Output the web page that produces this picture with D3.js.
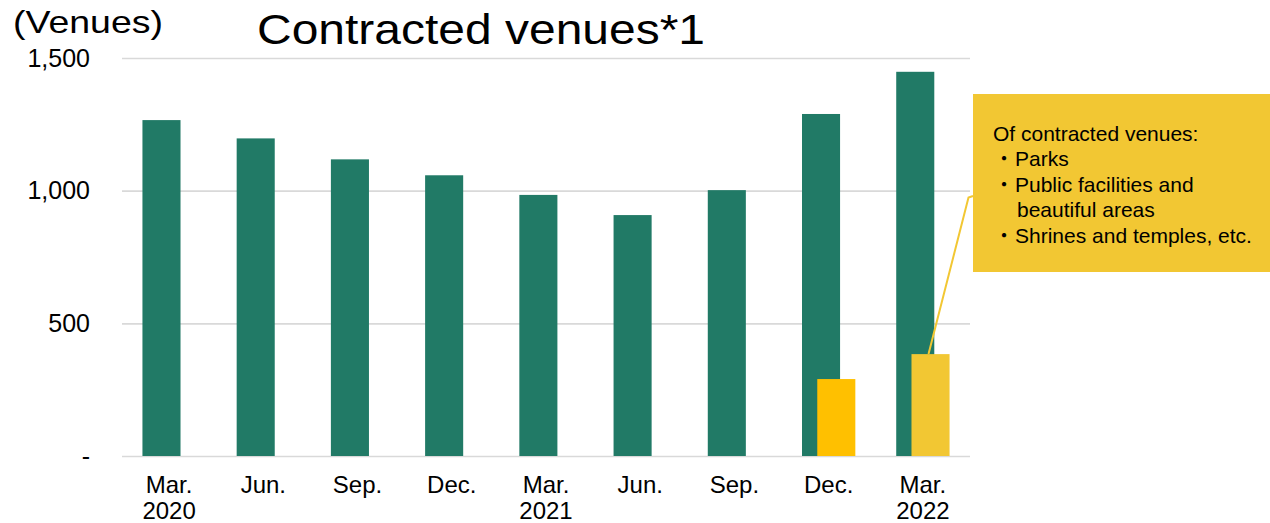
<!DOCTYPE html>
<html>
<head>
<meta charset="utf-8">
<script src="https://cdn.jsdelivr.net/npm/d3@7"></script>
<style>
  html, body { margin: 0; padding: 0; background: #fff; }
  svg { display: block; font-family: "Liberation Sans", Arial, "Noto Sans CJK JP", sans-serif; }
</style>
</head>
<body>
<svg id="chart" width="1270" height="523"></svg>
<script>
// Quarterly periods on the x axis
const periods = ["2020-03", "2020-06", "2020-09", "2020-12", "2021-03", "2021-06", "2021-09", "2021-12", "2022-03"];
const monthLabels = ["Mar.", "Jun.", "Sep.", "Dec.", "Mar.", "Jun.", "Sep.", "Dec.", "Mar."];
const yearLabels = ["2020", "", "", "", "2021", "", "", "", "2022"];

// Contracted venues, and the subset that are parks / public facilities / shrines and temples
const contractedVenues = [1266, 1197, 1118, 1058, 984, 908, 1002, 1289, 1448];
const publicVenues = [null, null, null, null, null, null, null, 290, 384];

// Y axis ticks
const yTicks = [0, 500, 1000, 1500];
const yTickLabels = ["-", "500", "1,000", "1,500"];

const calloutLines = [
  { text: "Of contracted venues:", bullet: false, indent: false },
  { text: "Parks", bullet: true, indent: false },
  { text: "Public facilities and", bullet: true, indent: false },
  { text: "beautiful areas", bullet: false, indent: true },
  { text: "Shrines and temples, etc.", bullet: true, indent: false }
];

const svg = d3.select("#chart");
const plot = { left: 122, right: 970, top: 58, bottom: 456 };

const x = d3.scaleBand().domain(periods).range([plot.left, plot.right]).padding(0);
const y = d3.scaleLinear().domain([0, 1500]).range([plot.bottom, plot.top]);

const bw = x.bandwidth();
const barW = bw * 0.404;
const shift = bw * 0.081;

// Gridlines + y tick labels
const yAxis = d3.axisLeft(y)
  .tickValues(yTicks)
  .tickFormat((d, i) => yTickLabels[i])
  .tickSize(-(plot.right - plot.left))
  .tickPadding(32);

const gy = svg.append("g")
  .attr("transform", `translate(${plot.left},0)`)
  .call(yAxis);
gy.select(".domain").remove();
gy.selectAll(".tick line").attr("stroke", "#d9d9d9").attr("stroke-width", 1.6);
gy.selectAll(".tick text")
  .attr("fill", "#000")
  .attr("font-size", 25)
  .attr("font-family", "'Liberation Sans', Arial, sans-serif");

// Green bars: all contracted venues
svg.append("g").selectAll("rect")
  .data(periods.map((p, i) => ({ p, v: contractedVenues[i] })))
  .join("rect")
  .attr("x", d => x(d.p) + bw / 2 - shift - barW / 2)
  .attr("y", d => y(d.v))
  .attr("width", barW)
  .attr("height", d => y(0) - y(d.v))
  .attr("fill", "#217A66");

// Yellow bars: public venue subset
const yellowColors = ["#FFC000", "#F2C733"];
const publicData = periods.map((p, i) => ({ p, v: publicVenues[i] })).filter(d => d.v != null);
svg.append("g").selectAll("rect")
  .data(publicData)
  .join("rect")
  .attr("x", d => x(d.p) + bw / 2 + shift - barW / 2)
  .attr("y", d => y(d.v))
  .attr("width", barW)
  .attr("height", d => y(0) - y(d.v))
  .attr("fill", (d, i) => yellowColors[i]);

// X axis labels (month + year)
const xl = svg.append("g").attr("font-size", 24).attr("fill", "#000").attr("text-anchor", "middle");
periods.forEach((p, i) => {
  const cx = x(p) + bw / 2;
  xl.append("text").attr("x", cx).attr("y", 493).text(monthLabels[i]);
  if (yearLabels[i]) xl.append("text").attr("x", cx).attr("y", 519).text(yearLabels[i]);
});

// Unit label and title
svg.append("text")
  .attr("x", 13).attr("y", 33)
  .attr("font-size", 32)
  .attr("textLength", 150).attr("lengthAdjust", "spacingAndGlyphs")
  .attr("fill", "#000")
  .text("(Venues)");

svg.append("text")
  .attr("x", 257).attr("y", 44)
  .attr("font-size", 43)
  .attr("textLength", 448).attr("lengthAdjust", "spacingAndGlyphs")
  .attr("fill", "#000")
  .text("Contracted venues*1");

// Callout box with leader line to the last yellow bar
const box = { x: 973, y: 94, w: 297, h: 178 };
const last = publicData[publicData.length - 1];
const anchor = [x(last.p) + bw / 2 + shift - 2, y(last.v)];
svg.append("polyline")
  .attr("points", [[box.x, 196], [968.5, 197.5], anchor].map(d => d.join(",")).join(" "))
  .attr("fill", "none")
  .attr("stroke", "#F2C733")
  .attr("stroke-width", 2);

svg.append("rect")
  .attr("x", box.x).attr("y", box.y)
  .attr("width", box.w).attr("height", box.h)
  .attr("fill", "#F2C733");

const cg = svg.append("g").attr("font-size", 21).attr("fill", "#000");
calloutLines.forEach((ln, i) => {
  const by = 141 + i * 25.4;
  const t = cg.append("text")
    .attr("x", ln.bullet ? 994 : (ln.indent ? 1017 : 993))
    .attr("y", by);
  if (ln.bullet) {
    t.append("tspan").attr("font-size", 20).text("・");
    t.append("tspan").attr("x", 1015).text(ln.text);
  } else {
    t.text(ln.text);
  }
});
</script>
</body>
</html>
